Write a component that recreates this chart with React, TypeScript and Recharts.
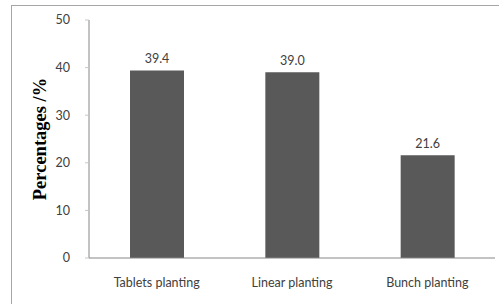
import React from 'react';
import { BarChart, Bar, XAxis, YAxis, LabelList } from 'recharts';

const categories = ['Tablets planting', 'Linear planting', 'Bunch planting'];
const percentages = [39.4, 39.0, 21.6];
const yTicks = [0, 10, 20, 30, 40, 50];
const categoryEdges = [0, 1, 2, 3];

const data = categories.map((name, i) => ({ name, value: percentages[i] }));

const tickFont = { fontFamily: 'Lato, "Open Sans", sans-serif', fontSize: 12.5, fill: '#404040' };

export default function App() {
  return (
    <div style={{ position: 'absolute', left: 0, top: 0, width: 499, height: 304, overflow: 'hidden', background: '#fff' }}>
      {/* frame of the original plot area, cut off on the right and bottom */}
      <div style={{ position: 'absolute', left: 11, top: 5, width: 520, height: 330, border: '1px solid #a6a6a6' }} />
      <div style={{ position: 'absolute', left: 0, top: 0 }}>
        <BarChart width={499} height={304} data={data} margin={{ top: 20, right: 4, left: 0, bottom: 0 }}>
          {/* small upward marks between categories */}
          <XAxis
            xAxisId="edges"
            type="number"
            domain={[0, 3]}
            ticks={categoryEdges}
            allowDataOverflow
            height={0}
            mirror
            tickSize={3}
            tick={false}
            tickLine={{ stroke: '#868686' }}
            axisLine={false}
          />
          <XAxis
            dataKey="name"
            height={46}
            tickLine={false}
            axisLine={{ stroke: '#868686' }}
            tick={tickFont}
            tickMargin={14}
            interval={0}
          />
          <YAxis
            width={89}
            domain={[0, 50]}
            ticks={yTicks}
            tickSize={4}
            tickMargin={15}
            tickLine={{ stroke: '#c8c8c8' }}
            axisLine={{ stroke: '#868686' }}
            tick={tickFont}
            label={{
              value: 'Percentages /%',
              angle: -90,
              position: 'center',
              dx: -5,
              style: { fontFamily: '"Liberation Serif", "DejaVu Serif", serif', fontWeight: 'bold', fontSize: 18.5, fill: '#000' },
            }}
          />
          <Bar dataKey="value" fill="#595959" barSize={54} isAnimationActive={false}>
            <LabelList
              dataKey="value"
              position="top"
              offset={7}
              formatter={(v: number) => v.toFixed(1)}
              style={{ fontFamily: 'Lato, "Open Sans", sans-serif', fontSize: 12.5, fill: '#404040' }}
            />
          </Bar>
        </BarChart>
      </div>
    </div>
  );
}
